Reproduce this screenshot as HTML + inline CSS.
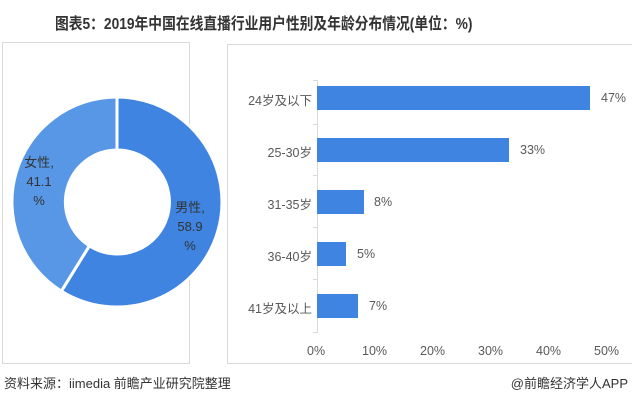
<!DOCTYPE html>
<html><head><meta charset="utf-8"><style>
body{margin:0;width:632px;height:402px;background:#fff;overflow:hidden;font-family:"Liberation Sans","Noto Sans CJK SC",sans-serif;position:relative}
.t{position:absolute;top:10px;left:55px;font-size:16px;font-weight:bold;color:#333;white-space:nowrap;transform:scaleX(0.86);transform-origin:0 0}
.box{position:absolute;border:1px solid #d9d9d9}
.lab{position:absolute;font-size:12.5px;color:#595959}
.bar{position:absolute;left:317px;height:24px;background:#3e84e0}
.foot{position:absolute;top:373px;font-size:13px;color:#333;white-space:nowrap}
</style></head><body>
<div class="t">图表5：2019年中国在线直播行业用户性别及年龄分布情况(单位：%)</div>
<div class="box" style="left:2px;top:42px;width:186px;height:320px"></div>
<div class="box" style="left:227px;top:44px;width:410px;height:318px"></div>
<svg style="position:absolute;left:0;top:0" width="632" height="402">
<path d="M117 97 A105 105 0 1 1 61.4 291.1 L89.4 245.8 A52 52 0 1 0 117 150 Z" fill="#3e84e0" stroke="#fff" stroke-width="3"/>
<path d="M117 97 A105 105 0 0 0 61.4 291.1 L89.4 245.8 A52 52 0 0 1 117 150 Z" fill="#5797e6" stroke="#fff" stroke-width="3"/>
<line x1="317.5" y1="80" x2="317.5" y2="333" stroke="#d9d9d9"/>
<g stroke="#d9d9d9"><line x1="313" y1="80.5" x2="317" y2="80.5"/><line x1="313" y1="124.5" x2="317" y2="124.5"/><line x1="313" y1="175.5" x2="317" y2="175.5"/><line x1="313" y1="227.5" x2="317" y2="227.5"/><line x1="313" y1="279.5" x2="317" y2="279.5"/><line x1="313" y1="332.5" x2="317" y2="332.5"/></g>
</svg>
<div class="lab" style="left:24px;top:153px;font-size:13px;color:#333;text-align:center;line-height:19px;width:30px">女性,<br>41.1<br>%</div>
<div class="lab" style="left:175px;top:198px;font-size:13px;color:#333;text-align:center;line-height:19px;width:30px">男性,<br>58.9<br>%</div>
<div class="bar" style="top:86px;width:273px"></div>
<div class="bar" style="top:138px;width:192px"></div>
<div class="bar" style="top:190px;width:47px"></div>
<div class="bar" style="top:242px;width:29px"></div>
<div class="bar" style="top:294px;width:41px"></div>
<div class="lab" style="right:320px;top:90px">24岁及以下</div>
<div class="lab" style="right:320px;top:142px">25-30岁</div>
<div class="lab" style="right:320px;top:194px">31-35岁</div>
<div class="lab" style="right:320px;top:246px">36-40岁</div>
<div class="lab" style="right:320px;top:298px">41岁及以上</div>
<div class="lab" style="left:601px;top:91px">47%</div>
<div class="lab" style="left:520px;top:143px">33%</div>
<div class="lab" style="left:374px;top:195px">8%</div>
<div class="lab" style="left:357px;top:247px">5%</div>
<div class="lab" style="left:369px;top:299px">7%</div>
<div class="lab" style="left:307px;top:344px">0%</div>
<div class="lab" style="left:362px;top:344px">10%</div>
<div class="lab" style="left:420px;top:344px">20%</div>
<div class="lab" style="left:478px;top:344px">30%</div>
<div class="lab" style="left:536px;top:344px">40%</div>
<div class="lab" style="left:594px;top:344px">50%</div>
<div class="foot" style="left:4px">资料来源：iimedia 前瞻产业研究院整理</div>
<div class="foot" style="right:4px">@前瞻经济学人APP</div>
</body></html>
